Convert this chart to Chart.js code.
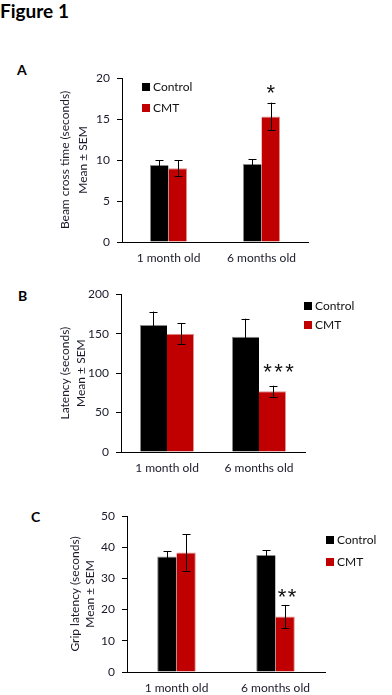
<!DOCTYPE html>
<html>
<head>
<meta charset="utf-8">
<script src="https://cdn.jsdelivr.net/npm/chart.js@4.4.0/dist/chart.umd.min.js"></script>
<style>
  html,body{margin:0;padding:0;background:#fff;width:392px;height:695px;overflow:hidden;font-family:Lato,"Liberation Sans",sans-serif;}
  .abs{position:absolute;}
  canvas{position:absolute;left:0;}
  .fig{left:0;top:0;font-weight:bold;font-size:19px;color:#000;line-height:22px;}
  .lett{font-weight:bold;font-size:14px;color:#000;line-height:14px;}
  .leg{font-size:12px;color:#111;line-height:14px;white-space:nowrap;}
  .leg span.box{display:inline-block;width:8px;height:8px;margin-right:3px;vertical-align:0px;}
</style>
</head>
<body>
<div class="abs fig">Figure 1</div>
<div class="abs lett" style="left:17px;top:63px;">A</div>
<div class="abs lett" style="left:18px;top:289px;">B</div>
<div class="abs lett" style="left:31px;top:510px;">C</div>
<canvas id="cA" width="392" height="215" style="top:60px;width:392px;height:215px;"></canvas>
<canvas id="cB" width="392" height="200" style="top:280px;width:392px;height:200px;"></canvas>
<canvas id="cC" width="392" height="195" style="top:500px;width:392px;height:195px;"></canvas>
<div id="legA" class="abs leg" style="left:142px;top:80px;"></div>
<div id="legB" class="abs leg" style="left:304px;top:299px;"></div>
<div id="legC" class="abs leg" style="left:326px;top:533px;"></div>
<script>
// ---- data ----
const categories = ['1 month old', '6 months old'];
const seriesNames = ['Control', 'CMT'];
const seriesColors = ['#000000', '#C00000'];

const controlA = [9.4, 9.5];
const cmtA = [9.0, 15.3];
const controlErrA = [0.6, 0.6];
const cmtErrA = [1.0, 1.7];
const sigA = ['', '*'];

const controlB = [161, 146];
const cmtB = [150, 77];
const controlErrB = [17, 23];
const cmtErrB = [13, 7];
const sigB = ['', '***'];

const controlC = [37.0, 37.5];
const cmtC = [38.3, 17.8];
const controlErrC = [1.7, 1.5];
const cmtErrC = [5.8, 3.7];
const sigC = ['', '**'];

const titleA = ['Beam cross time (seconds)', 'Mean \u00B1 SEM'];
const titleB = ['Latency (seconds)', 'Mean \u00B1 SEM'];
const titleC = ['Grip latency (seconds)', 'Mean \u00B1 SEM'];

const FONT = 'Lato, "Liberation Sans", sans-serif';
const STAR_FONT = '"Liberation Sans", Arial, sans-serif';

const errorBarPlugin = {
  id: 'errorBars',
  afterDatasetsDraw(chart) {
    const ctx = chart.ctx;
    const ys = chart.scales.y;
    ctx.save();
    ctx.strokeStyle = '#000';
    ctx.lineWidth = 1;
    chart.data.datasets.forEach((ds, di) => {
      const meta = chart.getDatasetMeta(di);
      meta.data.forEach((bar, i) => {
        const v = ds.data[i], e = ds.errors[i];
        const x = Math.round(bar.x) + 0.5;
        const yt = ys.getPixelForValue(v + e), yb = ys.getPixelForValue(v - e);
        ctx.beginPath();
        ctx.moveTo(x, yt); ctx.lineTo(x, yb);
        ctx.moveTo(x - 4, Math.round(yt) + 0.5); ctx.lineTo(x + 4, Math.round(yt) + 0.5);
        ctx.moveTo(x - 4, Math.round(yb) + 0.5); ctx.lineTo(x + 4, Math.round(yb) + 0.5);
        ctx.stroke();
      });
    });
    // significance markers above the CMT series
    const ds = chart.data.datasets[1];
    const meta = chart.getDatasetMeta(1);
    const o = chart.options.plugins.errorBars;
    const sig = o.sig;
    ctx.fillStyle = '#111';
    ctx.font = o.starSize + 'px ' + STAR_FONT;
    ctx.textAlign = 'center';
    ctx.textBaseline = 'alphabetic';
    meta.data.forEach((bar, i) => {
      const s = sig[i];
      if (!s) return;
      const yTop = ys.getPixelForValue(ds.data[i] + ds.errors[i]);
      const n = s.length;
      for (let k = 0; k < n; k++) {
        const cx = bar.x + o.dx + (k - (n - 1) / 2) * o.spacing;
        ctx.fillText(s[k], cx, yTop - o.dy + 0.49 * o.starSize);
      }
    });
    ctx.restore();
  }
};

function makeChart(id, ctrl, cmt, ctrlErr, cmtErr, sig, title, cfg) {
  return new Chart(document.getElementById(id), {
    type: 'bar',
    data: {
      labels: categories,
      datasets: [
        { label: seriesNames[0], data: ctrl, errors: ctrlErr, backgroundColor: seriesColors[0],
          borderColor: '#8a8a8a', borderWidth: {top:1,left:1,right:0,bottom:0}, borderSkipped: 'bottom' },
        { label: seriesNames[1], data: cmt, errors: cmtErr, backgroundColor: seriesColors[1],
          borderColor: '#e09090', borderWidth: {top:1,left:0,right:1,bottom:0}, borderSkipped: 'bottom' }
      ]
    },
    options: {
      responsive: false,
      animation: false,
      devicePixelRatio: 1,
      categoryPercentage: cfg.catPct,
      barPercentage: 1.0,
      layout: { padding: { left: 0, top: cfg.padTop, right: cfg.padRight, bottom: 0 } },
      plugins: {
        legend: { display: false },
        tooltip: { enabled: false },
        errorBars: { sig: sig, dx: cfg.starDx, dy: cfg.starDy, spacing: cfg.starSpacing, starSize: cfg.starSize }
      },
      scales: {
        x: {
          grid: { display: false, drawTicks: false },
          border: { display: true, color: '#000', width: 1 },
          ticks: { color: '#1a1a2a', font: { family: FONT, size: 12 }, padding: cfg.xPad },
          afterFit(s) { s.height = cfg.xHeight; }
        },
        y: {
          min: 0, max: cfg.max,
          grid: { drawOnChartArea: false, drawTicks: true, tickLength: 5, color: '#000' },
          border: { display: true, color: '#000', width: 1 },
          ticks: { stepSize: cfg.step, color: '#1a1a2a', font: { family: FONT, size: 12 }, padding: 7 },
          title: { display: true, text: title, color: '#1a1a2a',
                   font: { family: FONT, size: 12, lineHeight: cfg.titleLH + 'px' },
                   padding: { top: cfg.titlePad, bottom: 0 } },
          afterFit(s) { s.width = cfg.yWidth; }
        }
      }
    },
    plugins: [errorBarPlugin]
  });
}

makeChart('cA', controlA, cmtA, controlErrA, cmtErrA, sigA, titleA,
  { catPct: 0.4, padTop: 18, padRight: 84, xHeight: 33, xPad: 9, max: 20, step: 5,
    titleLH: 18, titlePad: 56, yWidth: 122, starDx: 0, starDy: 13.5, starSpacing: 11, starSize: 22 });
makeChart('cB', controlB, cmtB, controlErrB, cmtErrB, sigB, titleB,
  { catPct: 0.587, padTop: 11, padRight: 87, xHeight: 28, xPad: 9, max: 200, step: 50,
    titleLH: 16, titlePad: 57, yWidth: 121, starDx: 6, starDy: 18, starSpacing: 11, starSize: 22 });
makeChart('cC', controlC, cmtC, controlErrC, cmtErrC, sigC, titleC,
  { catPct: 0.39, padTop: 16, padRight: 67, xHeight: 23, xPad: 9, max: 50, step: 10,
    titleLH: 15, titlePad: 68, yWidth: 127, starDx: 2, starDy: 11.5, starSpacing: 10, starSize: 22 });

function legend(id) {
  document.getElementById(id).innerHTML = seriesNames.map((n, i) =>
    '<div style="margin-bottom:' + (id === 'legA' ? 7 : (id === 'legB' ? 5 : 8)) + 'px"><span class="box" style="background:' + seriesColors[i] + '"></span>' + n + '</div>').join('');
}
legend('legA'); legend('legB'); legend('legC');
</script>
</body>
</html>
